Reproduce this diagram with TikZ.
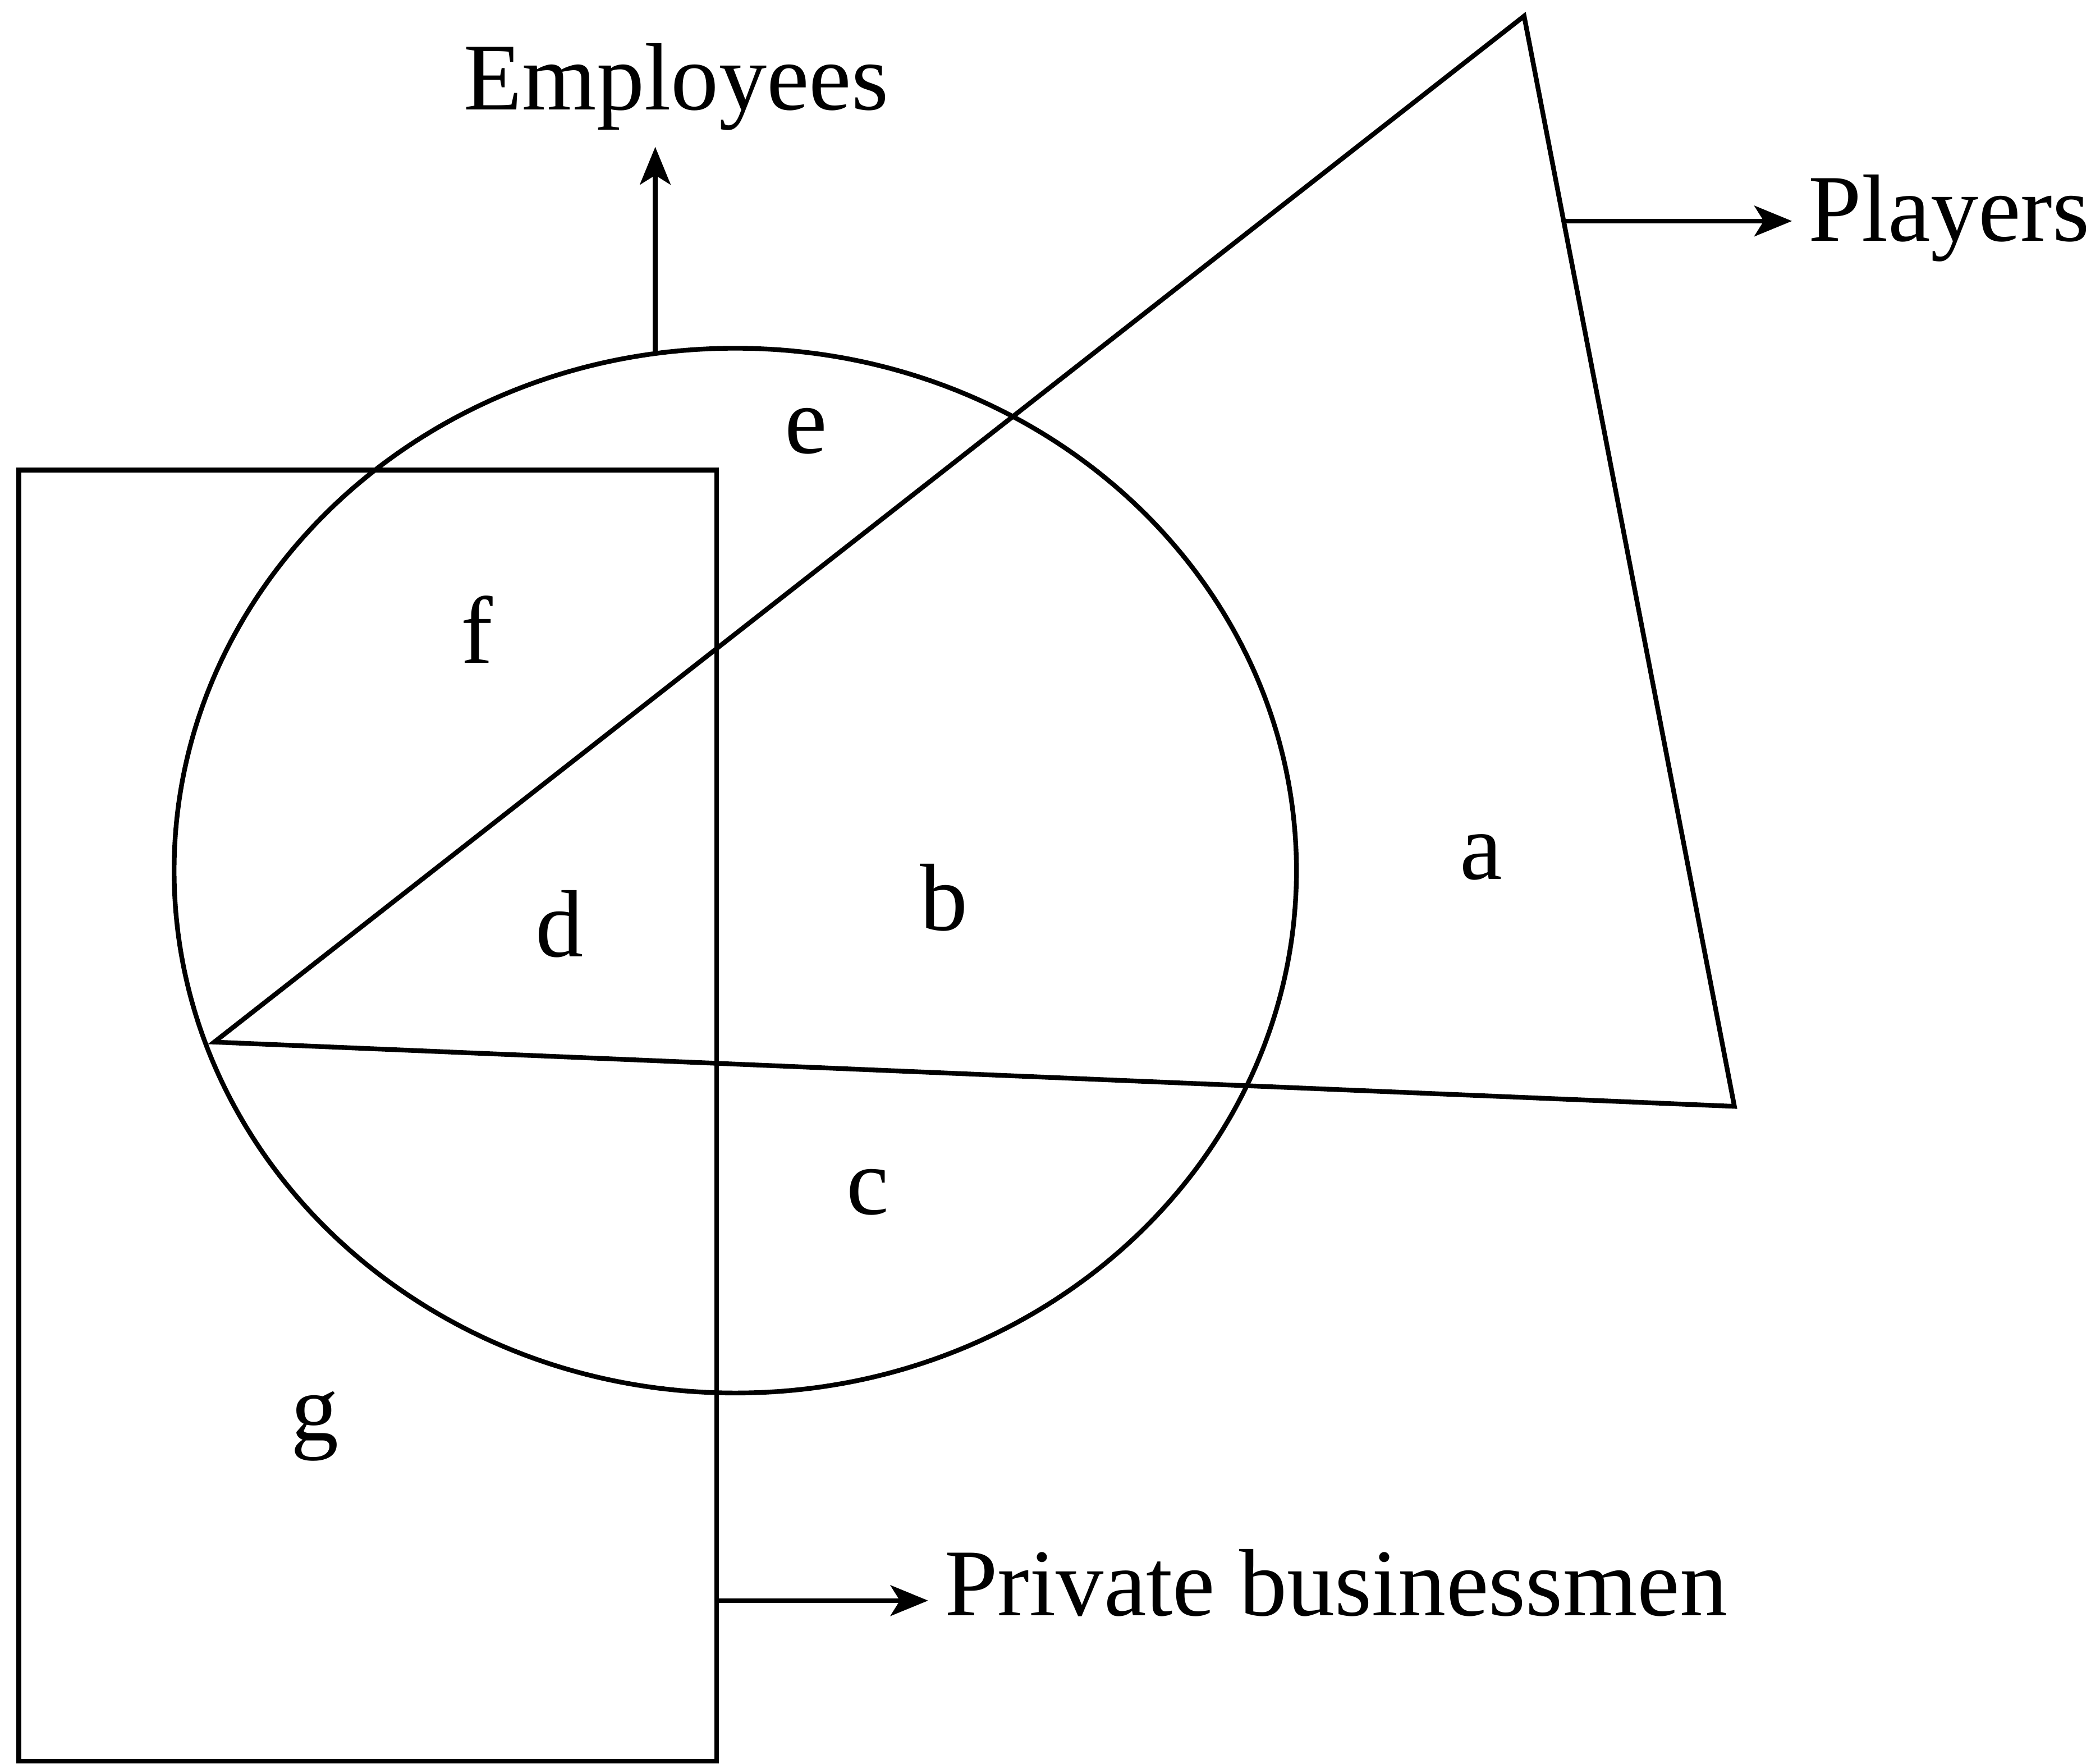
\documentclass[tikz,border=0pt]{standalone}
\usepackage{fontspec}
\setmainfont{Liberation Serif}
\usetikzlibrary{arrows.meta}
\begin{document}
\begin{tikzpicture}[>={Stealth[length=8pt,width=6.5pt,inset=2pt]}, line width=1pt, font=\fontsize{20.3}{24}\selectfont]
	\tikzset{word/.style={inner sep=3pt}}
	\useasboundingbox (0,-13.17) rectangle (15.68,0);
	\coordinate (O) at (5.49,-6.50);
	\coordinate (A) at (1.60,-7.78);
	\coordinate (B) at (11.38,-0.12);
	\coordinate (C) at (12.95,-8.26);
	% the three sets
	\draw (0.14,-3.51) rectangle (5.35,-13.15);
	\draw (O) ellipse (4.19 and 3.90);
	\draw (A) -- (B) -- (C) -- cycle;
	% feet of the arrows
	\path (O) ++(98.2:4.19 and 3.90) coordinate (empfoot);
	\path (B) -- (C) coordinate[pos=0.188] (plfoot);
	\coordinate (pbfoot) at (5.35,-11.95);
	\node[word, anchor=base] (emp) at (5.05,-0.82) {Employees};
	\node[word, anchor=base west] (pl) at (13.38,-1.80) {Players};
	\node[word, anchor=base west] (pb) at (6.93,-12.06) {Private businessmen};
	\draw[->] (empfoot) -- (empfoot |- emp.south);
	\draw[->] (plfoot) -- (plfoot -| pl.west);
	\draw[->] (pbfoot) -- (pbfoot -| pb.west);
	% regions
	\foreach \name/\x/\y in {e/6.02/-3.22, f/3.56/-4.70, d/4.18/-6.90, b/7.05/-6.70, a/11.06/-6.40, c/6.48/-8.90, g/2.35/-10.65}
		\node (reg\name) at (\x,\y) {\name};
\end{tikzpicture}
\end{document}
